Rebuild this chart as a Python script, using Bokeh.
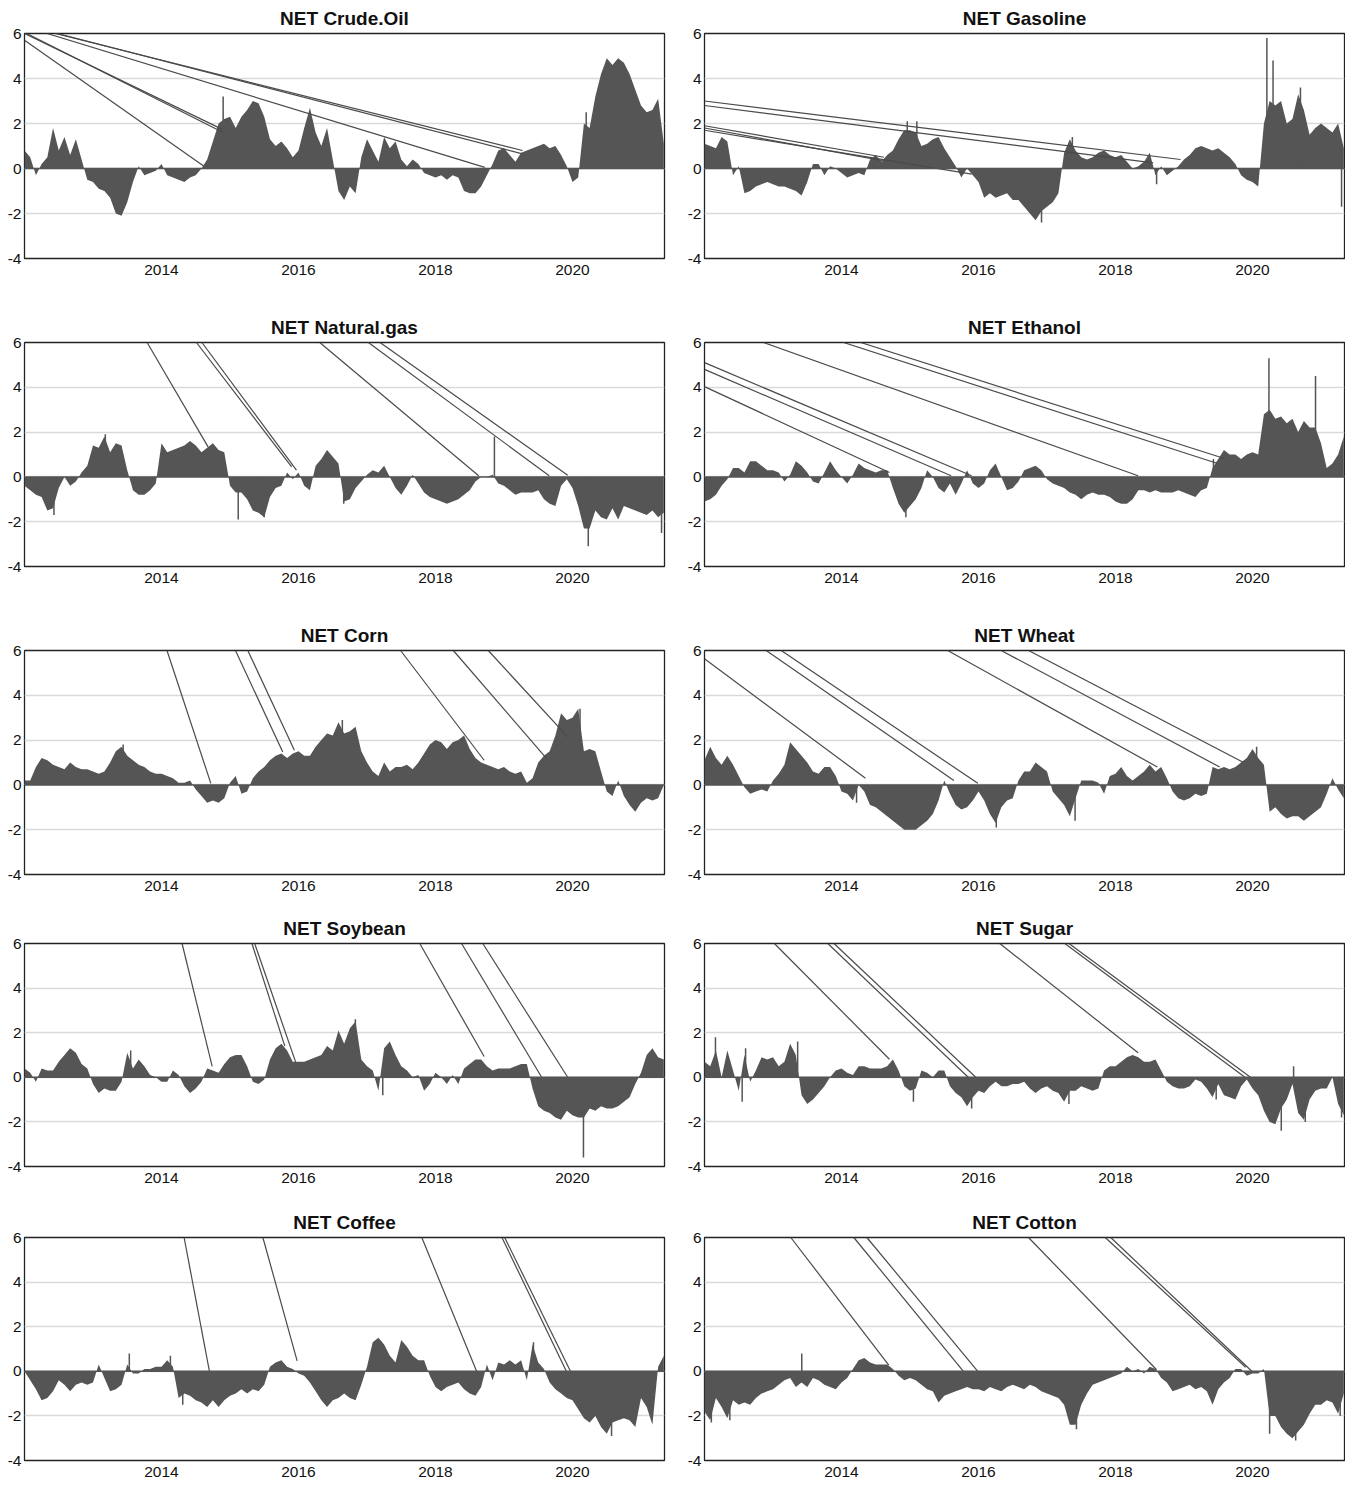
from bokeh.plotting import figure
from bokeh.layouts import column, row
from bokeh.models import Range1d, FixedTicker, Span
from bokeh.embed import file_html
from bokeh.resources import INLINE

# ---------------- data (monthly values, Jan 2012 .. May 2021) ----------------
YEAR0 = 2012.0
X_START, X_END = 2012.0, 2021.343

crude_oil = [0.8, 0.5, -0.3, 0.2, 0.5, 1.8, 0.8, 1.4, 0.6, 1.3, 0.4, -0.5,
             -0.6, -0.9, -1.0, -1.3, -2.0, -2.1, -1.5, -0.6, 0.1, -0.3, -0.2, -0.1,
             0.2, -0.3, -0.4, -0.5, -0.6, -0.4, -0.3, 0.0, 0.4, 1.2, 2.0, 2.2,
             2.3, 1.8, 2.3, 2.6, 3.0, 2.9, 2.3, 1.3, 1.0, 1.2, 0.9, 0.5,
             0.8, 1.8, 2.7, 1.6, 1.0, 1.8, 0.4, -1.0, -1.4, -0.8, -1.1, 0.5,
             1.3, 0.8, 0.3, 1.4, 0.9, 1.2, 0.4, 0.1, 0.4, 0.2, -0.2, -0.3,
             -0.4, -0.3, -0.5, -0.3, -0.4, -1.0, -1.1, -1.1, -0.8, -0.3, 0.2, 0.8,
             0.9, 0.6, 0.3, 0.7, 0.8, 0.9, 1.0, 1.1, 0.9, 1.0, 0.6, 0.1,
             -0.6, -0.4, 2.0, 1.8, 3.2, 4.2, 4.9, 4.6, 4.9, 4.7, 4.2, 3.5,
             2.8, 2.5, 2.6, 3.1, 1.1]
crude_oil_spike_x = [2014.90, 2020.20]
crude_oil_spike_y = [3.2, 2.5]
crude_oil_jump_x0 = [2012.0, 2012.0, 2012.0, 2012.33, 2012.45, 2012.48]
crude_oil_jump_y0 = [5.7, 6.0, 6.05, 6.0, 6.0, 6.0]
crude_oil_jump_x1 = [2014.62, 2014.88, 2014.90, 2018.72, 2019.27, 2019.27]
crude_oil_jump_y1 = [0.1, 1.75, 1.6, 0.05, 0.8, 0.65]

gasoline = [1.1, 1.0, 0.9, 1.4, 1.2, -0.3, 0.1, -1.1, -1.0, -0.8, -0.7, -0.6,
            -0.7, -0.8, -0.8, -0.9, -1.0, -1.2, -0.6, 0.2, 0.2, -0.3, 0.1, 0.0,
            -0.2, -0.4, -0.3, -0.2, -0.3, 0.4, 0.6, 0.3, 0.6, 0.8, 1.3, 1.7,
            1.7, 1.6, 1.0, 1.1, 1.3, 1.4, 0.9, 0.5, 0.1, -0.4, 0.0, -0.3,
            -0.6, -1.3, -1.1, -1.3, -1.2, -1.1, -1.4, -1.4, -1.7, -2.0, -2.3, -1.9,
            -1.7, -1.5, -1.1, 0.7, 1.3, 0.8, 0.5, 0.4, 0.5, 0.7, 0.8, 0.6,
            0.5, 0.6, 0.3, 0.0, 0.1, 0.3, 0.7, -0.3, 0.1, -0.3, -0.1, 0.1,
            0.4, 0.6, 0.9, 1.0, 0.9, 0.8, 0.9, 0.7, 0.5, 0.2, -0.3, -0.5,
            -0.6, -0.8, 2.0, 3.0, 2.8, 3.0, 2.0, 2.2, 3.3, 2.6, 1.5, 1.8,
            2.0, 1.8, 1.6, 2.0, 0.9]
gasoline_spike_x = [2014.96, 2015.10, 2016.92, 2017.37, 2018.60, 2020.21, 2020.30, 2020.70, 2021.30]
gasoline_spike_y = [2.1, 2.1, -2.4, 1.4, -0.7, 5.8, 4.8, 3.6, -1.7]
gasoline_jump_x0 = [2012.0, 2012.0, 2012.0, 2012.0, 2012.0]
gasoline_jump_y0 = [3.0, 2.8, 1.9, 1.8, 1.7]
gasoline_jump_x1 = [2018.95, 2018.55, 2014.62, 2014.60, 2015.90]
gasoline_jump_y1 = [0.4, 0.25, 0.5, 0.35, -0.25]

natural_gas = [-0.4, -0.6, -0.8, -0.9, -1.5, -1.4, -0.5, 0.0, -0.4, -0.2, 0.2, 0.5,
               1.4, 1.3, 1.8, 1.1, 1.5, 1.4, 0.3, -0.6, -0.8, -0.8, -0.6, -0.3,
               1.5, 1.1, 1.2, 1.3, 1.4, 1.6, 1.4, 1.1, 1.3, 1.5, 1.2, 1.1,
               -0.4, -0.7, -0.7, -1.0, -1.5, -1.6, -1.8, -0.9, -0.5, -0.4, 0.2, -0.1,
               0.2, -0.4, -0.6, 0.5, 0.8, 1.2, 0.9, 0.6, -1.1, -1.0, -0.5, -0.2,
               0.1, 0.3, 0.2, 0.5, 0.0, -0.5, -0.8, -0.4, 0.1, -0.3, -0.7, -0.9,
               -1.0, -1.1, -1.2, -1.1, -1.0, -0.8, -0.6, -0.2, 0.0, 0.0, 0.1, -0.3,
               -0.4, -0.6, -0.8, -0.7, -0.7, -0.7, -0.6, -1.0, -1.2, -1.3, -0.4, -0.1,
               -0.5, -1.3, -2.3, -2.3, -1.5, -1.8, -1.9, -1.4, -1.9, -1.3, -1.4, -1.5,
               -1.6, -1.7, -1.5, -1.8, -1.6]
natural_gas_spike_x = [2012.43, 2013.18, 2015.12, 2015.50, 2016.66, 2018.86, 2020.23, 2021.30]
natural_gas_spike_y = [-1.7, 1.9, -1.9, -1.8, -1.2, 1.8, -3.1, -2.5]
natural_gas_jump_x0 = [2013.79, 2014.51, 2014.59, 2016.31, 2017.02, 2017.19]
natural_gas_jump_y0 = [6.0, 6.0, 6.0, 6.0, 6.0, 6.0]
natural_gas_jump_x1 = [2014.68, 2015.90, 2015.97, 2018.63, 2019.66, 2019.93]
natural_gas_jump_y1 = [1.34, 0.45, 0.3, 0.05, 0.05, 0.07]

ethanol = [-1.1, -1.0, -0.8, -0.4, -0.1, 0.4, 0.4, 0.2, 0.7, 0.7, 0.5, 0.3,
           0.3, 0.2, -0.2, 0.1, 0.7, 0.5, 0.2, -0.2, -0.3, 0.2, 0.7, 0.3,
           0.0, -0.3, 0.1, 0.6, 0.4, 0.3, 0.2, 0.3, 0.3, -0.5, -1.2, -1.6,
           -1.3, -1.0, -0.5, 0.3, 0.0, -0.5, -0.7, -0.3, -0.8, -0.3, 0.3, -0.3,
           -0.5, -0.3, 0.3, 0.6, 0.0, -0.6, -0.5, -0.2, 0.3, 0.4, 0.5, 0.3,
           -0.1, -0.3, -0.4, -0.5, -0.7, -0.8, -1.0, -0.8, -0.7, -0.8, -0.8, -0.9,
           -1.1, -1.2, -1.2, -1.0, -0.6, -0.6, -0.7, -0.6, -0.7, -0.7, -0.7, -0.6,
           -0.7, -0.8, -0.9, -0.6, -0.5, 0.4, 0.8, 1.2, 1.0, 1.0, 0.8, 1.0,
           1.1, 1.0, 2.8, 3.0, 2.6, 2.7, 2.4, 2.6, 2.0, 2.5, 2.2, 2.2,
           1.5, 0.4, 0.6, 1.0, 1.8]
ethanol_spike_x = [2014.94, 2019.43, 2020.24, 2020.92]
ethanol_spike_y = [-1.8, 0.8, 5.3, 4.5]
ethanol_jump_x0 = [2012.0, 2012.0, 2012.0, 2012.86, 2014.03, 2014.28]
ethanol_jump_y0 = [4.03, 4.8, 5.1, 6.0, 6.0, 6.0]
ethanol_jump_x1 = [2014.70, 2015.60, 2015.90, 2018.33, 2019.49, 2019.59]
ethanol_jump_y1 = [0.2, 0.05, 0.05, 0.05, 0.6, 0.82]

corn = [0.2, 0.2, 0.8, 1.2, 1.1, 0.9, 0.8, 0.7, 1.0, 0.8, 0.7, 0.7,
        0.6, 0.5, 0.6, 1.0, 1.5, 1.7, 1.3, 1.1, 0.9, 0.8, 0.6, 0.5,
        0.5, 0.4, 0.3, 0.1, 0.1, 0.2, -0.2, -0.5, -0.8, -0.7, -0.8, -0.6,
        0.1, 0.4, -0.4, -0.3, 0.3, 0.6, 0.8, 1.1, 1.3, 1.4, 1.2, 1.4,
        1.5, 1.3, 1.3, 1.7, 2.0, 2.3, 2.2, 2.8, 2.3, 2.4, 2.6, 1.5,
        1.0, 0.6, 0.4, 1.0, 0.6, 0.8, 0.8, 0.9, 0.7, 1.0, 1.4, 1.8,
        2.0, 1.9, 1.6, 1.9, 2.0, 2.2, 1.6, 1.2, 1.0, 0.9, 0.8, 0.7,
        0.8, 0.6, 0.5, 0.6, 0.1, 0.3, 1.0, 1.3, 1.5, 2.2, 3.2, 2.9,
        3.0, 3.4, 1.5, 1.6, 1.5, 0.6, -0.3, -0.5, 0.2, -0.5, -0.9, -1.2,
        -0.8, -0.6, -0.7, -0.6, 0.0]
corn_spike_x = [2013.44, 2016.64, 2020.11]
corn_spike_y = [1.8, 2.9, 3.4]
corn_jump_x0 = [2014.08, 2015.08, 2015.26, 2017.49, 2018.26, 2018.77]
corn_jump_y0 = [6.0, 6.0, 6.0, 6.0, 6.0, 6.0]
corn_jump_x1 = [2014.72, 2015.77, 2015.94, 2018.71, 2019.62, 2019.93]
corn_jump_y1 = [0.07, 1.47, 1.55, 1.1, 1.18, 2.14]

wheat = [1.1, 1.7, 1.2, 0.9, 1.3, 0.9, 0.4, -0.1, -0.4, -0.3, -0.2, -0.3,
         0.2, 0.5, 0.9, 1.9, 1.6, 1.3, 1.0, 0.6, 0.5, 0.8, 0.8, 0.4,
         -0.3, -0.4, -0.7, 0.0, -0.3, -0.9, -1.0, -1.2, -1.4, -1.6, -1.8, -2.0,
         -2.0, -2.0, -1.8, -1.6, -1.3, -0.7, 0.2, -0.4, -0.9, -1.1, -1.0, -0.7,
         -0.3, -0.7, -1.3, -1.7, -1.0, -0.7, -0.6, 0.2, 0.6, 0.6, 1.0, 0.8,
         0.6, -0.3, -0.6, -0.9, -1.4, -0.6, 0.2, 0.2, 0.2, 0.1, -0.4, 0.4,
         0.5, 0.8, 0.4, 0.2, 0.4, 0.6, 0.9, 0.6, 0.8, 0.3, -0.3, -0.6,
         -0.7, -0.6, -0.4, -0.5, -0.4, 0.8, 0.7, 0.8, 0.7, 0.8, 1.0, 1.2,
         1.6, 1.2, 0.9, -1.2, -1.0, -1.3, -1.5, -1.4, -1.4, -1.6, -1.4, -1.2,
         -1.0, -0.4, 0.3, -0.2, -0.6]
wheat_spike_x = [2014.22, 2016.26, 2017.41, 2020.06]
wheat_spike_y = [-0.8, -1.9, -1.6, 1.7]
wheat_jump_x0 = [2012.0, 2012.90, 2013.12, 2015.55, 2016.33, 2016.73]
wheat_jump_y0 = [5.63, 6.0, 6.0, 6.0, 6.0, 6.0]
wheat_jump_x1 = [2014.35, 2015.64, 2015.99, 2018.61, 2019.52, 2019.87]
wheat_jump_y1 = [0.3, 0.2, 0.07, 0.8, 0.8, 1.0]

soybean = [0.4, 0.2, -0.2, 0.4, 0.3, 0.3, 0.7, 1.0, 1.3, 1.1, 0.6, 0.4,
           -0.3, -0.7, -0.5, -0.6, -0.6, -0.2, 1.1, 0.4, 0.8, 0.5, 0.1, 0.0,
           -0.2, -0.2, 0.3, 0.1, -0.4, -0.7, -0.5, -0.2, 0.4, 0.3, 0.2, 0.6,
           0.9, 1.0, 1.0, 0.5, -0.2, -0.3, -0.1, 0.8, 1.3, 1.5, 1.2, 0.7,
           0.7, 0.7, 0.8, 0.9, 1.0, 1.4, 1.2, 2.1, 1.5, 2.2, 2.5, 0.8,
           0.5, 0.3, -0.6, 1.3, 1.6, 1.0, 0.5, 0.3, 0.0, 0.1, -0.6, -0.3,
           0.2, 0.0, -0.3, 0.1, -0.3, 0.4, 0.6, 0.8, 0.8, 0.5, 0.3, 0.4,
           0.4, 0.4, 0.5, 0.6, 0.6, -0.5, -1.3, -1.5, -1.6, -1.8, -1.9, -1.5,
           -1.7, -1.8, -1.8, -1.4, -1.5, -1.3, -1.4, -1.4, -1.3, -1.1, -0.9, -0.3,
           0.2, 1.0, 1.3, 0.9, 0.8]
soybean_spike_x = [2013.55, 2016.83, 2017.23, 2020.16]
soybean_spike_y = [1.2, 2.6, -0.8, -3.6]
soybean_jump_x0 = [2014.30, 2015.32, 2015.36, 2017.77, 2018.38, 2018.69]
soybean_jump_y0 = [6.0, 6.0, 6.0, 6.0, 6.0, 6.0]
soybean_jump_x1 = [2014.74, 2015.80, 2015.96, 2018.71, 2019.55, 2019.93]
soybean_jump_y1 = [0.49, 1.4, 0.67, 0.93, 0.0, 0.0]

sugar = [0.7, 0.5, 1.2, 0.0, 1.2, 0.3, -0.6, 1.0, -0.2, 0.3, 0.9, 0.8,
         0.9, 0.5, 0.7, 1.5, 1.0, -0.8, -1.2, -1.0, -0.7, -0.4, 0.0, 0.3,
         0.4, 0.2, 0.1, 0.5, 0.5, 0.4, 0.4, 0.4, 0.5, 0.8, 0.3, -0.4,
         -0.6, -0.5, 0.3, 0.2, 0.0, 0.3, 0.3, -0.4, -0.7, -0.9, -1.3, -0.9,
         -0.6, -0.7, -0.4, -0.2, -0.4, -0.4, -0.3, -0.3, -0.2, -0.5, -0.7, -0.5,
         -0.4, -0.6, -0.7, -1.1, -0.6, -0.6, -0.4, -0.5, -0.6, -0.5, 0.3, 0.5,
         0.5, 0.7, 0.9, 1.0, 0.9, 0.7, 0.7, 0.8, 0.3, -0.2, -0.4, -0.5,
         -0.5, -0.4, -0.1, -0.2, -0.5, -0.9, -0.3, -0.8, -0.9, -1.0, -0.4, -0.1,
         -0.5, -0.8, -1.5, -2.0, -2.1, -1.4, -1.0, -0.3, -1.6, -1.9, -1.0, -0.6,
         -0.5, -0.5, 0.0, -1.2, -1.7]
sugar_spike_x = [2012.16, 2012.55, 2012.60, 2013.36, 2015.05, 2015.90, 2017.32, 2019.47, 2020.42, 2020.60, 2020.77, 2021.30]
sugar_spike_y = [1.8, -1.1, 1.3, 1.6, -1.1, -1.4, -1.2, -1.0, -2.4, 0.5, -2.0, -1.8]
sugar_jump_x0 = [2013.02, 2013.80, 2013.89, 2016.31, 2017.26, 2017.32]
sugar_jump_y0 = [6.0, 6.0, 6.0, 6.0, 6.0, 6.0]
sugar_jump_x1 = [2014.70, 2015.85, 2015.96, 2018.33, 2019.89, 2019.97]
sugar_jump_y1 = [0.81, 0.0, 0.0, 1.1, 0.0, 0.0]

coffee = [0.0, -0.4, -0.8, -1.3, -1.2, -0.9, -0.4, -0.6, -0.9, -0.6, -0.5, -0.6,
          -0.5, 0.3, -0.3, -0.9, -0.8, -0.6, 0.3, -0.1, -0.1, 0.1, 0.1, 0.2,
          0.2, 0.5, 0.2, -1.2, -1.0, -1.1, -1.3, -1.4, -1.6, -1.3, -1.6, -1.3,
          -1.1, -1.0, -0.8, -1.0, -0.8, -0.9, -0.6, 0.2, 0.4, 0.5, 0.2, 0.1,
          -0.1, -0.2, -0.5, -0.9, -1.3, -1.6, -1.3, -1.2, -1.0, -1.2, -1.3, -0.6,
          0.2, 1.3, 1.5, 1.2, 0.7, 0.4, 1.4, 1.1, 0.7, 0.5, 0.5, -0.2,
          -0.7, -0.9, -0.7, -0.6, -0.5, -0.8, -1.0, -1.1, -0.7, 0.3, -0.4, 0.4,
          0.3, 0.5, 0.3, 0.5, -0.4, 1.2, 0.4, 0.1, -0.5, -0.8, -1.0, -1.2,
          -1.3, -1.7, -2.1, -2.3, -2.0, -2.5, -2.8, -2.3, -2.2, -2.1, -2.2, -2.5,
          -1.2, -1.6, -2.4, 0.2, 0.7]
coffee_spike_x = [2013.53, 2014.13, 2014.31, 2019.43, 2020.57]
coffee_spike_y = [0.8, 0.7, -1.5, 1.3, -2.9]
coffee_jump_x0 = [2014.33, 2015.48, 2017.80, 2018.97, 2019.01]
coffee_jump_y0 = [6.0, 6.0, 6.0, 6.0, 6.0]
coffee_jump_x1 = [2014.70, 2015.98, 2018.60, 2019.91, 2019.97]
coffee_jump_y1 = [0.0, 0.47, 0.0, 0.0, 0.0]

cotton = [-1.8, -2.2, -1.2, -1.6, -2.1, -1.3, -1.5, -1.4, -1.5, -1.2, -1.0, -0.9,
          -0.8, -0.6, -0.4, -0.3, -0.7, -0.5, -0.7, -0.3, -0.4, -0.6, -0.7, -0.8,
          -0.5, -0.3, 0.1, 0.5, 0.6, 0.4, 0.3, 0.3, 0.3, 0.1, -0.2, -0.4,
          -0.3, -0.4, -0.6, -0.8, -0.9, -1.4, -1.1, -1.0, -0.9, -0.8, -0.7, -0.8,
          -0.8, -0.9, -0.7, -0.8, -0.9, -0.7, -0.6, -0.7, -0.8, -0.6, -0.7, -0.9,
          -1.0, -1.1, -1.2, -1.5, -2.4, -2.4, -1.5, -1.0, -0.6, -0.5, -0.4, -0.3,
          -0.2, -0.1, 0.2, 0.0, 0.1, -0.1, 0.2, 0.1, -0.3, -0.5, -0.9, -0.8,
          -0.7, -0.6, -0.8, -0.7, -0.9, -1.5, -0.8, -0.5, -0.3, 0.1, 0.1, -0.2,
          -0.1, -0.1, 0.1, -2.0, -2.0, -2.5, -2.8, -3.0, -2.7, -2.4, -1.9, -1.5,
          -1.5, -1.3, -1.4, -1.9, -1.0]
cotton_spike_x = [2012.10, 2012.37, 2013.42, 2017.43, 2020.25, 2020.63, 2021.28]
cotton_spike_y = [-2.3, -2.2, 0.8, -2.6, -2.8, -3.1, -2.0]
cotton_jump_x0 = [2013.26, 2014.18, 2014.37, 2016.73, 2017.85, 2017.93]
cotton_jump_y0 = [6.0, 6.0, 6.0, 6.0, 6.0, 6.0]
cotton_jump_x1 = [2014.69, 2015.78, 2015.99, 2018.60, 2019.90, 2019.99]
cotton_jump_y1 = [0.28, 0.0, 0.0, 0.07, 0.18, 0.0]

titles = ["NET Crude.Oil", "NET Gasoline", "NET Natural.gas", "NET Ethanol",
          "NET Corn", "NET Wheat", "NET Soybean", "NET Sugar",
          "NET Coffee", "NET Cotton"]
y_ticks = [-4, -2, 0, 2, 4, 6]
x_ticks = [2014, 2016, 2018, 2020]

panels = [
    (crude_oil, crude_oil_spike_x, crude_oil_spike_y, crude_oil_jump_x0, crude_oil_jump_y0, crude_oil_jump_x1, crude_oil_jump_y1),
    (gasoline, gasoline_spike_x, gasoline_spike_y, gasoline_jump_x0, gasoline_jump_y0, gasoline_jump_x1, gasoline_jump_y1),
    (natural_gas, natural_gas_spike_x, natural_gas_spike_y, natural_gas_jump_x0, natural_gas_jump_y0, natural_gas_jump_x1, natural_gas_jump_y1),
    (ethanol, ethanol_spike_x, ethanol_spike_y, ethanol_jump_x0, ethanol_jump_y0, ethanol_jump_x1, ethanol_jump_y1),
    (corn, corn_spike_x, corn_spike_y, corn_jump_x0, corn_jump_y0, corn_jump_x1, corn_jump_y1),
    (wheat, wheat_spike_x, wheat_spike_y, wheat_jump_x0, wheat_jump_y0, wheat_jump_x1, wheat_jump_y1),
    (soybean, soybean_spike_x, soybean_spike_y, soybean_jump_x0, soybean_jump_y0, soybean_jump_x1, soybean_jump_y1),
    (sugar, sugar_spike_x, sugar_spike_y, sugar_jump_x0, sugar_jump_y0, sugar_jump_x1, sugar_jump_y1),
    (coffee, coffee_spike_x, coffee_spike_y, coffee_jump_x0, coffee_jump_y0, coffee_jump_x1, coffee_jump_y1),
    (cotton, cotton_spike_x, cotton_spike_y, cotton_jump_x0, cotton_jump_y0, cotton_jump_x1, cotton_jump_y1),
]

# ---------------- styling ----------------
FONT = "Liberation Sans"
FILL = "#555555"
JUMP = "#4a4a4a"
FRAME_W = 640
FRAME_H = [225, 224, 224, 223, 223]
TOP = 33
BOTTOM = [51, 51, 36, 38, 22]


def make_panel(idx):
    vals, sx, sy, jx0, jy0, jx1, jy1 = panels[idx]
    r, c = divmod(idx, 2)
    xs = [YEAR0 + i / 12 for i in range(len(vals))]
    p = figure(frame_width=FRAME_W, frame_height=FRAME_H[r],
               x_range=Range1d(X_START, X_END), y_range=Range1d(-4, 6),
               output_backend="svg", toolbar_location=None,
               min_border_left=24 if c == 0 else 20,
               min_border_right=20 if c == 0 else 1,
               min_border_top=TOP, min_border_bottom=BOTTOM[r])
    p.title.text = titles[idx]
    p.title.align = "center"
    p.title.text_font = FONT
    p.title.text_font_style = "bold"
    p.title.text_font_size = "19px"
    p.title.text_color = "#111111"
    p.title.standoff = 9

    p.varea(x=xs, y1=[0] * len(vals), y2=vals, fill_color=FILL)
    p.add_layout(Span(location=0, dimension="width", line_color=FILL, line_width=1.5))
    p.segment(x0=sx, y0=[0] * len(sx), x1=sx, y1=sy, line_color=FILL, line_width=1.5)
    p.segment(x0=jx0, y0=jy0, x1=jx1, y1=jy1, line_color=JUMP, line_width=1.2)

    p.outline_line_color = "#222222"
    p.outline_line_width = 1.3
    p.xgrid.visible = False
    p.ygrid.ticker = FixedTicker(ticks=[-2, 0, 2, 4])
    p.ygrid.grid_line_color = "#d9d9d9"
    p.ygrid.grid_line_width = 1.5

    for ax in (p.xaxis[0], p.yaxis[0]):
        ax.axis_line_color = None
        ax.major_tick_line_color = None
        ax.minor_tick_line_color = None
        ax.major_tick_out = 0
        ax.major_tick_in = 0
        ax.minor_tick_out = 0
        ax.major_label_text_font = FONT
        ax.major_label_text_font_size = "15.5px"
        ax.major_label_text_color = "#111111"
    p.yaxis.ticker = FixedTicker(ticks=y_ticks)
    p.yaxis.major_label_overrides = {t: str(t) for t in y_ticks}
    p.yaxis.major_label_standoff = 3
    p.xaxis.ticker = FixedTicker(ticks=x_ticks)
    p.xaxis.major_label_overrides = {t: str(t) for t in x_ticks}
    p.xaxis.major_label_standoff = 6
    return p


figs = [make_panel(i) for i in range(10)]
layout = column(*[row(figs[2 * r], figs[2 * r + 1]) for r in range(5)])

open("out.html", "w").write(file_html(layout, INLINE))
